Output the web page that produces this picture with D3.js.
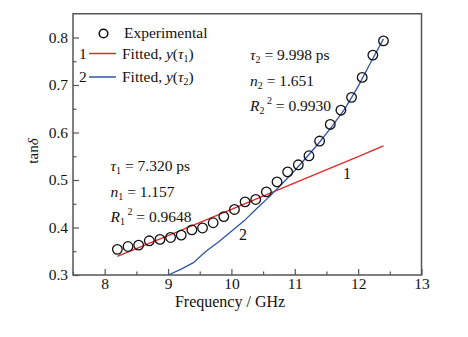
<!DOCTYPE html>
<html>
<head>
<meta charset="utf-8">
<script src="https://cdn.jsdelivr.net/npm/d3@7/dist/d3.min.js"></script>
<style>
  html, body { margin: 0; padding: 0; background: #fff; }
  svg text { font-family: "Liberation Serif", "Times New Roman", Times, serif; }
  .it { font-style: italic; }
</style>
</head>
<body>
<svg id="chart" width="468" height="337"></svg>
<script>
// Measured loss tangent over the X band
const frequency = [8.200, 8.368, 8.536, 8.704, 8.872, 9.040, 9.208, 9.376, 9.544, 9.712,
                   9.880, 10.048, 10.216, 10.384, 10.552, 10.720, 10.888, 11.056, 11.224, 11.392,
                   11.560, 11.728, 11.896, 12.064, 12.232, 12.400];
const tanDelta = [0.354, 0.360, 0.363, 0.372, 0.375, 0.379, 0.384, 0.395, 0.399, 0.410,
                  0.423, 0.438, 0.454, 0.459, 0.475, 0.496, 0.517, 0.532, 0.551, 0.582,
                  0.617, 0.647, 0.674, 0.716, 0.763, 0.793];

// Fit 1 (tau1)
const fit1Freq = [8.2, 9.0, 10.0, 11.0, 12.0, 12.4];
const fit1Val  = [0.339, 0.383, 0.438, 0.494, 0.549, 0.572];

// Fit 2 (tau2)
const fit2Freq = [9.00, 9.20, 9.40, 9.60, 9.80, 10.00, 10.20, 10.40, 10.60, 10.80,
                  11.00, 11.20, 11.40, 11.60, 11.80, 12.00, 12.20, 12.40];
const fit2Val  = [0.300, 0.312, 0.326, 0.350, 0.370, 0.392, 0.414, 0.440, 0.465, 0.492,
                  0.520, 0.550, 0.581, 0.615, 0.652, 0.697, 0.748, 0.797];

const xTicks = [8, 9, 10, 11, 12, 13];
const xMinor = [7.5, 8.5, 9.5, 10.5, 11.5, 12.5];
const yTicks = [0.3, 0.4, 0.5, 0.6, 0.7, 0.8];
const yMinor = [0.35, 0.45, 0.55, 0.65, 0.75];

const SERIF = "'Liberation Serif', 'Times New Roman', Times, serif";
const svg = d3.select("#chart").attr("font-family", SERIF);
const L = 73, R = 421.5, T = 13.75, B = 275;

const x = d3.scaleLinear().domain([7.5, 13]).range([L, R]);
const y = d3.scaleLinear().domain([0.3, 0.85]).range([B, T]);

const RED = "#e02a2a", BLUE = "#2f55a8", FRAME = "#555";

svg.append("defs").append("clipPath").attr("id", "plot")
  .append("rect").attr("x", L).attr("y", T).attr("width", R - L).attr("height", B - T);

// Axes with inward ticks
const xAxis = svg.append("g").attr("transform", `translate(0,${B})`)
  .call(d3.axisBottom(x).tickValues(xTicks).tickFormat(d3.format("d")).tickSizeInner(-6).tickSizeOuter(0).tickPadding(3));
const xAxisMinor = svg.append("g").attr("transform", `translate(0,${B})`)
  .call(d3.axisBottom(x).tickValues(xMinor).tickFormat("").tickSizeInner(-3.5).tickSizeOuter(0));
const yAxis = svg.append("g").attr("transform", `translate(${L},0)`)
  .call(d3.axisLeft(y).tickValues(yTicks).tickFormat(d3.format(".1f")).tickSizeInner(-6).tickSizeOuter(0).tickPadding(5));
const yAxisMinor = svg.append("g").attr("transform", `translate(${L},0)`)
  .call(d3.axisLeft(y).tickValues(yMinor).tickFormat("").tickSizeInner(-3.5).tickSizeOuter(0));

[xAxis, xAxisMinor, yAxis, yAxisMinor].forEach(g => {
  g.attr("font-family", SERIF).attr("font-size", 15.5);
  g.select(".domain").remove();
  g.selectAll(".tick line").attr("stroke", FRAME).attr("stroke-width", 1.2);
  g.selectAll(".tick text").attr("fill", "#111");
});

// Frame
svg.append("rect").attr("x", L).attr("y", T).attr("width", R - L).attr("height", B - T)
  .attr("fill", "none").attr("stroke", FRAME).attr("stroke-width", 1.5);

// Fitted curves
const line = d3.line().x(d => x(d[0])).y(d => y(d[1]));
const plot = svg.append("g").attr("clip-path", "url(#plot)");
plot.append("path").datum(d3.zip(fit1Freq, fit1Val)).attr("d", line)
  .attr("fill", "none").attr("stroke", RED).attr("stroke-width", 1.3);
plot.append("path").datum(d3.zip(fit2Freq, fit2Val)).attr("d", line)
  .attr("fill", "none").attr("stroke", BLUE).attr("stroke-width", 1.3);

// Measured points
plot.selectAll("circle.pt").data(d3.zip(frequency, tanDelta)).join("circle")
  .attr("class", "pt").attr("cx", d => x(d[0])).attr("cy", d => y(d[1])).attr("r", 4.8)
  .attr("fill", "none").attr("stroke", "#111").attr("stroke-width", 1.3);

// Axis titles
svg.append("text").attr("x", 230).attr("y", 307).attr("text-anchor", "middle")
  .attr("font-size", 16).attr("fill", "#111").text("Frequency / GHz");
const yl = svg.append("text").attr("transform", "translate(38,151) rotate(-90)")
  .attr("text-anchor", "middle").attr("font-size", 15).attr("fill", "#111");
yl.append("tspan").text("tan");
yl.append("tspan").attr("class", "it").text("δ");

// Legend
const lg = svg.append("g").attr("font-size", 15.5).attr("fill", "#111");
lg.append("circle").attr("cx", 103.5).attr("cy", 33.5).attr("r", 4.3)
  .attr("fill", "none").attr("stroke", "#111").attr("stroke-width", 1.6);
lg.append("text").attr("x", 124).attr("y", 37.5).text("Experimental");

const legendFit = (yy, num, color, sub) => {
  lg.append("text").attr("x", 79).attr("y", yy + 5).text(num);
  lg.append("line").attr("x1", 89).attr("x2", 116).attr("y1", yy).attr("y2", yy)
    .attr("stroke", color).attr("stroke-width", 1.5);
  const t = lg.append("text").attr("x", 122).attr("y", yy + 5);
  t.append("tspan").text("Fitted, ");
  t.append("tspan").attr("class", "it").text("y");
  t.append("tspan").text("(");
  t.append("tspan").attr("class", "it").text("τ");
  t.append("tspan").attr("dy", 3).attr("font-size", 10).text(sub);
  t.append("tspan").attr("dy", -3).text(")");
};
legendFit(53.5, "1", RED, "1");
legendFit(77, "2", BLUE, "2");

// Fit parameter annotations
const annot = (x0, y0, tau, n, r2, sub) => {
  const g = svg.append("g").attr("font-size", 15.5).attr("fill", "#111");
  const rows = [["τ", tau], ["n", n], ["R", r2]];
  rows.forEach((r, i) => {
    const t = g.append("text").attr("x", x0).attr("y", y0 + i * 25.5);
    t.append("tspan").attr("class", "it").text(r[0]);
    t.append("tspan").attr("dy", 3).attr("font-size", 10).text(sub);
    if (r[0] === "R") {
      t.append("tspan").attr("dy", -10).attr("font-size", 10).text(" 2");
      t.append("tspan").attr("dy", 7).text(" = " + r[1]);
    } else {
      t.append("tspan").attr("dy", -3).text(" = " + r[1]);
    }
  });
};
annot(250, 60, "9.998 ps", "1.651", "0.9930", "2");
annot(110.5, 171, "7.320 ps", "1.157", "0.9648", "1");

// Curve labels
svg.append("text").attr("x", 347).attr("y", 179).attr("text-anchor", "middle")
  .attr("font-size", 16).attr("fill", "#111").text("1");
svg.append("text").attr("x", 243).attr("y", 240).attr("text-anchor", "middle")
  .attr("font-size", 16).attr("fill", "#111").text("2");
</script>
</body>
</html>
